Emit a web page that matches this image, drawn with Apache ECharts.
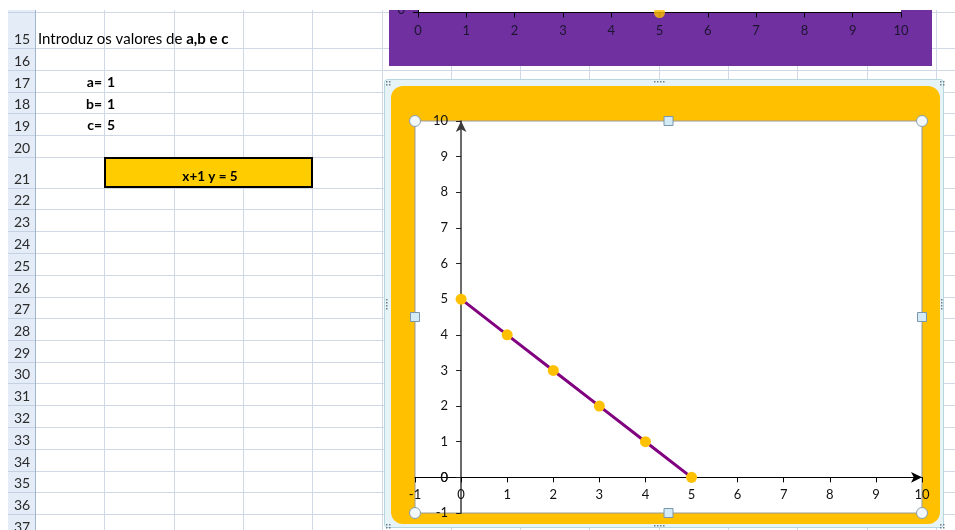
<!DOCTYPE html>
<html>
<head>
<meta charset="utf-8">
<script src="https://cdn.jsdelivr.net/npm/echarts@6/dist/echarts.min.js"></script>
<style>
html,body{margin:0;padding:0;background:#fff}
#main{width:955px;height:530px}
</style>
</head>
<body>
<div id="main"></div>
<script>
// recta a*x + b*y = c
var coefA = 1, coefB = 1, coefC = 5;
var lineX = [0, 1, 2, 3, 4, 5];
var lineY = [5, 4, 3, 2, 1, 0];
// ponto da reta numerica (grafico roxo, cortado)
var numberLineX = [5];
var numberLineY = [0];
// eixos do grafico principal
var axisMin = -1, axisMax = 10;
// linhas da folha
var rowNumbers = [15, 16, 17, 18, 19, 20, 21, 22, 23, 24, 25, 26, 27, 28, 29, 30, 31, 32, 33, 34, 35, 36, 37];
var rowBottoms = [48, 70, 92, 113, 135, 157, 188, 209, 231, 253, 275, 297, 318, 340, 362, 383, 405, 427, 449, 471, 492, 514, 536];

var FONT = 'Lato, "Open Sans", sans-serif';
var gridColor = '#d0d7e5';

// area do grafico principal
var PL = 415, PT = 121, PW = 507, PH = 392;
// eixos cruzam no zero: deslocamento a partir da borda
var xStep = PW / (axisMax - axisMin), yStep = PH / (axisMax - axisMin);
var yAxisOffset = -(0 - axisMin) * xStep;
var xAxisOffset = -(0 - axisMin) * yStep;

var gfx = [];

// folha de calculo
var colX = [];
for (var c = 0; c < 15; c++) colX.push(35 + c * 69.3);
colX.forEach(function (x) {
	gfx.push({type: 'line', z: 0, shape: {x1: Math.round(x) + 0.5, y1: 10, x2: Math.round(x) + 0.5, y2: 530},
		style: {stroke: gridColor, lineWidth: 1}});
});
[12].concat(rowBottoms).forEach(function (y) {
	gfx.push({type: 'line', z: 0, shape: {x1: 35, y1: y + 0.5, x2: 955, y2: y + 0.5},
		style: {stroke: gridColor, lineWidth: 1}});
});
// cabecalho das linhas
gfx.push({type: 'rect', z: 0, shape: {x: 8, y: 10, width: 27, height: 520}, style: {fill: '#e4ecf7'}});
[12].concat(rowBottoms).forEach(function (y) {
	gfx.push({type: 'line', z: 0, shape: {x1: 8, y1: y + 0.5, x2: 35, y2: y + 0.5},
		style: {stroke: '#c3d1e3', lineWidth: 1}});
});
gfx.push({type: 'line', z: 0, shape: {x1: 35.5, y1: 10, x2: 35.5, y2: 530}, style: {stroke: '#9eb6ce', lineWidth: 1}});
rowNumbers.forEach(function (n, i) {
	gfx.push({type: 'text', z: 0, style: {text: String(n), x: 22, y: rowBottoms[i] - 9,
		textAlign: 'center', textVerticalAlign: 'middle', font: '14px ' + FONT, fill: '#2b2b2b'}});
});

// textos das celulas
gfx.push({type: 'text', z: 0, style: {
	text: '{n|Introduz os valores de }{b|a,b e c}', x: 38, y: 39, textVerticalAlign: 'middle',
	rich: {n: {font: '15px ' + FONT, fill: '#000'}, b: {font: 'bold 15px ' + FONT, fill: '#000'}}
}});
[['a=', coefA, 82], ['b=', coefB, 104], ['c=', coefC, 125]].forEach(function (r) {
	gfx.push({type: 'text', z: 0, style: {text: r[0], x: 102, y: r[2], textAlign: 'right', textVerticalAlign: 'middle',
		font: 'bold 14px ' + FONT, fill: '#000'}});
	gfx.push({type: 'text', z: 0, style: {text: String(r[1]), x: 107, y: r[2], textAlign: 'left', textVerticalAlign: 'middle',
		font: 'bold 14px ' + FONT, fill: '#000'}});
});
gfx.push({type: 'rect', z: 0, shape: {x: 105, y: 158, width: 207, height: 29},
	style: {fill: '#ffcc00', stroke: '#000', lineWidth: 2}});
gfx.push({type: 'text', z: 0, style: {text: 'x+' + coefB + ' y = ' + coefC, x: 210, y: 177,
	textAlign: 'center', textVerticalAlign: 'middle', font: 'bold 13.5px ' + FONT, fill: '#000'}});

// grafico roxo (cortado em cima)
gfx.push({type: 'rect', z: 0, shape: {x: 389, y: 10, width: 543, height: 56}, style: {fill: '#7030a0'}});
gfx.push({type: 'text', z: 0, style: {text: '0', x: 405, y: 10, textAlign: 'right', textVerticalAlign: 'middle',
	font: '13px ' + FONT, fill: '#1c1530'}});

// moldura de selecao + grafico laranja
gfx.push({type: 'rect', z: 0, shape: {x: 384.5, y: 79.5, width: 559, height: 448, r: 3},
	style: {fill: '#e6f4f8', stroke: '#b7d6df', lineWidth: 1}});
gfx.push({type: 'rect', z: 0, shape: {x: 391, y: 86, width: 549, height: 438, r: 12}, style: {fill: '#ffc000'}});

// pegas da moldura
function dots(x0, y0, dx, dy, n) {
	for (var k = 0; k < n; k++) {
		gfx.push({type: 'rect', z: 0, shape: {x: x0 + dx * k, y: y0 + dy * k, width: 1.5, height: 1.5}, style: {fill: '#6f7f8c'}});
	}
}
dots(654, 81, 3, 0, 4); dots(654, 525, 3, 0, 4);
dots(386, 299, 0, 3, 4); dots(941, 299, 0, 3, 4);
[[386, 81], [940, 81], [386, 524], [940, 524]].forEach(function (p) {
	dots(p[0], p[1], 3, 0, 2); dots(p[0], p[1] + 3, 3, 0, 2);
});

// pegas da area de desenho
var PR = PL + PW, PB = PT + PH, PMX = PL + PW / 2, PMY = PT + PH / 2;
[[PL, PT], [PR, PT], [PL, PB], [PR, PB]].forEach(function (p) {
	gfx.push({type: 'circle', z: 10, shape: {cx: p[0], cy: p[1], r: 5.5},
		style: {fill: '#f3f9fb', stroke: '#8a9eac', lineWidth: 1}});
});
[[PMX, PT], [PMX, PB], [PL, PMY], [PR, PMY]].forEach(function (p) {
	gfx.push({type: 'rect', z: 10, shape: {x: p[0] - 4.5, y: p[1] - 4.5, width: 9, height: 9},
		style: {fill: '#d4ebf5', stroke: '#7b97ab', lineWidth: 1}});
});

// rotulo "0" do eixo y no cruzamento (o ECharts 6 esconde-o)
gfx.push({type: 'text', z: 5, style: {text: '0', x: PL - yAxisOffset - 13, y: PT + axisMax * yStep,
	textAlign: 'right', textVerticalAlign: 'middle', font: '13px ' + FONT, fill: '#111'}});

// mascara branca no topo
gfx.push({type: 'rect', z: 20, shape: {x: 0, y: 0, width: 955, height: 10}, style: {fill: '#fff'}});

var lineData = lineX.map(function (x, i) { return [x, lineY[i]]; });
var numberLineData = numberLineX.map(function (x, i) { return [x, numberLineY[i]]; });

var labelStyle = {color: '#111', fontFamily: FONT, fontSize: 13, hideOverlap: false};

var option = {
	backgroundColor: '#fff',
	animation: false,
	graphic: {elements: gfx},
	grid: [{
		left: 418, top: 0, width: 483, height: 12.5, z: 1,
		show: true, backgroundColor: '#fff', borderWidth: 0,
		outerBoundsMode: 'none', containLabel: false
	}, {
		left: PL, top: PT, width: PW, height: PH, z: 1,
		show: true, backgroundColor: '#fff', borderColor: '#9a9a9a', borderWidth: 1,
		outerBoundsMode: 'none', containLabel: false
	}],
	xAxis: [{
		gridIndex: 0, type: 'value', min: 0, max: 10, interval: 1, z: 1, position: 'bottom',
		axisLine: {onZero: false, lineStyle: {color: '#000', width: 1}},
		axisTick: {show: true, inside: false, length: 5, lineStyle: {color: '#000'}},
		axisLabel: Object.assign({margin: 12}, labelStyle, {color: '#1c1530'}),
		splitLine: {show: false}
	}, {
		gridIndex: 1, type: 'value', min: axisMin, max: axisMax, interval: 1, z: 1,
		position: 'bottom', offset: xAxisOffset,
		axisLine: {onZero: false, symbol: ['none', 'arrow'], symbolSize: [8, 11], lineStyle: {color: '#000', width: 1}},
		axisTick: {show: true, inside: false, length: 5, lineStyle: {color: '#000'}},
		axisLabel: Object.assign({margin: 11}, labelStyle),
		splitLine: {show: false}
	}],
	yAxis: [{
		gridIndex: 0, type: 'value', min: 0, max: 1, interval: 1, z: 1, position: 'left',
		axisLine: {show: true, onZero: false, lineStyle: {color: '#000', width: 1}},
		axisTick: {show: true, inside: false, length: 5, lineStyle: {color: '#000'}},
		axisLabel: {show: false},
		splitLine: {show: false}
	}, {
		gridIndex: 1, type: 'value', min: axisMin, max: axisMax, interval: 1, z: 1,
		position: 'left', offset: yAxisOffset,
		axisLine: {show: true, onZero: false, symbol: ['none', 'arrow'], symbolSize: [8, 11], lineStyle: {color: '#3a3a3a', width: 1.5}},
		axisTick: {show: true, inside: false, length: 5, lineStyle: {color: '#222'}},
		axisLabel: Object.assign({margin: 13}, labelStyle),
		splitLine: {show: false}
	}],
	series: [{
		type: 'scatter', xAxisIndex: 0, yAxisIndex: 0, z: 2,
		data: numberLineData, symbol: 'circle', symbolSize: 11,
		itemStyle: {color: '#ffc000'}
	}, {
		type: 'line', xAxisIndex: 1, yAxisIndex: 1, z: 2,
		data: lineData, symbol: 'circle', symbolSize: 11, showSymbol: true,
		lineStyle: {color: '#800080', width: 3},
		itemStyle: {color: '#ffc000', borderWidth: 0}
	}]
};

var chart = echarts.init(document.getElementById('main'), null, {renderer: 'canvas'});
chart.setOption(option);
</script>
</body>
</html>
